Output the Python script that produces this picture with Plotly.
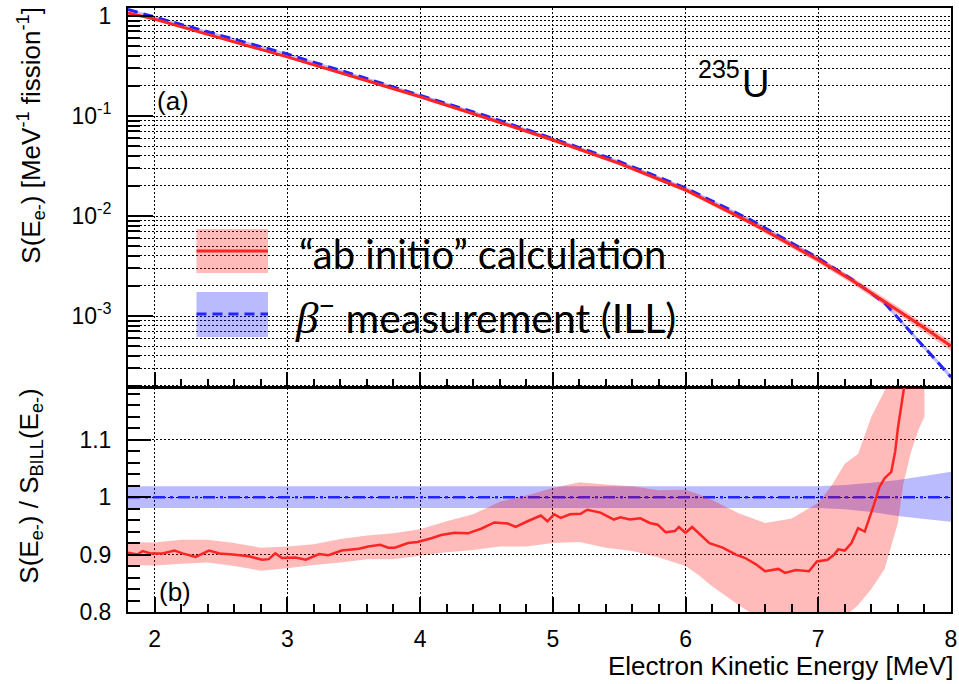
import plotly.graph_objects as go

# ---------------- data ----------------
# electron spectrum per fission, 235U
energy_spec = [1.8, 2.0, 2.5, 3.0, 3.5, 4.0, 4.5, 5.0, 5.5, 6.0, 6.5, 7.0, 7.25, 7.5, 7.75, 8.0]
s_ab_initio = [1.07, 0.93, 0.60, 0.39, 0.247, 0.156, 0.0955, 0.0575, 0.0336, 0.0182,
               0.00845, 0.00363, 0.00229, 0.00139, 0.000841, 0.00050]
s_ill = [1.16, 0.977, 0.638, 0.417, 0.260, 0.162, 0.100, 0.0596, 0.0351, 0.0191,
         0.00902, 0.0038, 0.00234, 0.00135, 0.000575, 0.000245]
# relative uncertainties of the two spectra
rel_err_ab_initio = [0.03, 0.03, 0.03, 0.03, 0.03, 0.03, 0.035, 0.04, 0.045, 0.05,
                     0.06, 0.07, 0.08, 0.09, 0.10, 0.12]
rel_err_ill = [0.025, 0.025, 0.025, 0.025, 0.025, 0.025, 0.025, 0.025, 0.025, 0.025,
               0.03, 0.03, 0.035, 0.04, 0.05, 0.06]

# ratio ab initio / ILL
energy_ratio = [1.80, 1.87, 1.91, 1.97, 2.06, 2.15, 2.21, 2.31, 2.41, 2.49, 2.59, 2.71,
                2.81, 2.86, 2.91, 2.96, 3.06, 3.14, 3.24, 3.31, 3.41, 3.54, 3.61, 3.70,
                3.76, 3.81, 3.91, 3.98, 4.08, 4.16, 4.26, 4.36, 4.46, 4.56, 4.66, 4.72,
                4.81, 4.91, 4.96, 5.01, 5.06, 5.13, 5.21, 5.26, 5.36, 5.46, 5.51, 5.58,
                5.66, 5.73, 5.79, 5.85, 5.92, 5.95, 6.00, 6.05, 6.18, 6.28, 6.38, 6.45,
                6.53, 6.60, 6.70, 6.75, 6.83, 6.93, 6.99, 7.07, 7.12, 7.15, 7.20, 7.25,
                7.30, 7.35, 7.42, 7.46, 7.50, 7.55, 7.58, 7.60, 7.65, 7.70]
ratio_ab_initio = [0.903, 0.900, 0.906, 0.902, 0.902, 0.907, 0.902, 0.896, 0.907, 0.902,
                   0.900, 0.897, 0.891, 0.892, 0.902, 0.894, 0.895, 0.891, 0.901, 0.899,
                   0.907, 0.910, 0.914, 0.917, 0.912, 0.912, 0.920, 0.922, 0.928, 0.934,
                   0.938, 0.937, 0.945, 0.956, 0.954, 0.948, 0.958, 0.968, 0.958, 0.970,
                   0.964, 0.970, 0.971, 0.978, 0.973, 0.961, 0.965, 0.961, 0.963, 0.955,
                   0.952, 0.939, 0.941, 0.948, 0.938, 0.948, 0.920, 0.912, 0.900, 0.894,
                   0.883, 0.871, 0.875, 0.868, 0.873, 0.871, 0.888, 0.891, 0.900, 0.909,
                   0.907, 0.920, 0.946, 0.940, 0.987, 1.017, 1.033, 1.044, 1.080, 1.120,
                   1.196, 1.280]

energy_ratio_band = [1.8, 2.0, 2.2, 2.4, 2.6, 2.8, 3.0, 3.2, 3.4, 3.6, 3.8, 4.0, 4.2, 4.4,
                     4.6, 4.8, 5.0, 5.2, 5.4, 5.6, 5.8, 6.0, 6.1, 6.2, 6.4, 6.6, 6.8, 7.0,
                     7.1, 7.2, 7.3, 7.4, 7.5, 7.6, 7.64, 7.7, 7.76, 7.8]
ratio_band_high = [0.922, 0.921, 0.926, 0.926, 0.920, 0.912, 0.914, 0.918, 0.927, 0.933,
                   0.937, 0.944, 0.958, 0.970, 0.992, 1.003, 1.016, 1.026, 1.022, 1.019,
                   1.012, 1.013, 1.005, 0.995, 0.972, 0.955, 0.963, 0.990, 1.020, 1.058,
                   1.075, 1.140, 1.185, 1.300, 1.350, 1.400, 1.450, 1.500]
ratio_band_low = [0.882, 0.881, 0.884, 0.886, 0.880, 0.872, 0.876, 0.882, 0.886, 0.892,
                  0.892, 0.898, 0.904, 0.908, 0.914, 0.914, 0.920, 0.922, 0.912, 0.906,
                  0.895, 0.880, 0.864, 0.845, 0.812, 0.782, 0.770, 0.765, 0.775, 0.792,
                  0.812, 0.840, 0.875, 0.955, 1.022, 1.080, 1.120, 1.140]

energy_ill_band = [1.8, 7.0, 7.2, 7.4, 7.6, 7.8, 8.0]
ratio_ill = [1.0, 1.0, 1.0, 1.0, 1.0, 1.0, 1.0]
ill_band_high = [1.019, 1.019, 1.021, 1.025, 1.030, 1.037, 1.044]
ill_band_low = [0.981, 0.981, 0.979, 0.974, 0.967, 0.962, 0.957]

y_ticks_log = [1e-3, 1e-2, 1e-1, 1]
y_ticks_log_text = ["10<sup>-3</sup>", "10<sup>-2</sup>", "10<sup>-1</sup>", "1"]
y_ticks_ratio = [0.8, 0.9, 1.0, 1.1]
y_ticks_ratio_text = ["0.8", "0.9", "1", "1.1"]
x_ticks = [2, 3, 4, 5, 6, 7, 8]

# ---------------- styling ----------------
RED = "#ff2424"
BLUE = "#2424ff"
PINK = "rgba(255,0,0,0.27)"
LAVENDER = "rgba(0,0,255,0.27)"
FONT = "Liberation Sans"
DOT = "1.5px,2.5px"
GRID_W = 1.3

# pixel geometry of the frames
L, R, T, B = 128, 957, 8, 612
W, H = R - L, B - T


def px(x):
    return (x - L) / W


def py(y):
    return (B - y) / H


def band(xs, lo, hi):
    return list(xs) + list(xs)[::-1], list(hi) + list(lo)[::-1]


fig = go.Figure()

# ---- top panel: spectra ----
bx, by = band(energy_spec,
              [s / (1 + e) for s, e in zip(s_ill, rel_err_ill)],
              [s * (1 + e) for s, e in zip(s_ill, rel_err_ill)])
fig.add_trace(go.Scatter(x=bx, y=by, fill="toself", fillcolor=LAVENDER, mode="none",
                         xaxis="x", yaxis="y", hoverinfo="skip", showlegend=False))
fig.add_trace(go.Scatter(x=energy_spec, y=s_ill, mode="lines",
                         line=dict(color=BLUE, width=3, dash="10px,6px"),
                         xaxis="x", yaxis="y", showlegend=False))
bx, by = band(energy_spec,
              [s / (1 + e) for s, e in zip(s_ab_initio, rel_err_ab_initio)],
              [s * (1 + e) for s, e in zip(s_ab_initio, rel_err_ab_initio)])
fig.add_trace(go.Scatter(x=bx, y=by, fill="toself", fillcolor=PINK, mode="none",
                         xaxis="x", yaxis="y", hoverinfo="skip", showlegend=False))
fig.add_trace(go.Scatter(x=energy_spec, y=s_ab_initio, mode="lines",
                         line=dict(color=RED, width=3),
                         xaxis="x", yaxis="y", showlegend=False))

# ---- bottom panel: ratio ----
bx, by = band(energy_ill_band, ill_band_low, ill_band_high)
fig.add_trace(go.Scatter(x=bx, y=by, fill="toself", fillcolor=LAVENDER, mode="none",
                         xaxis="x2", yaxis="y2", hoverinfo="skip", showlegend=False))
fig.add_trace(go.Scatter(x=energy_ill_band, y=ratio_ill, mode="lines",
                         line=dict(color=BLUE, width=2.5, dash="12px,5px,3px,5px"),
                         xaxis="x2", yaxis="y2", showlegend=False))
bx, by = band(energy_ratio_band, ratio_band_low, ratio_band_high)
fig.add_trace(go.Scatter(x=bx, y=by, fill="toself", fillcolor=PINK, mode="none",
                         xaxis="x2", yaxis="y2", hoverinfo="skip", showlegend=False))
fig.add_trace(go.Scatter(x=energy_ratio, y=ratio_ab_initio, mode="lines",
                         line=dict(color=RED, width=2.5),
                         xaxis="x2", yaxis="y2", showlegend=False))

axis_common = dict(showline=True, linecolor="black", linewidth=2, mirror=True,
                   ticks="inside", tickcolor="black", tickwidth=1.5,
                   showgrid=True, gridcolor="black", gridwidth=GRID_W, griddash=DOT,
                   zeroline=False, ticklabeloverflow="allow",
                   tickfont=dict(family=FONT, size=23, color="black"))

fig.update_layout(
    width=959, height=684,
    margin=dict(l=L, r=959 - R, t=T, b=684 - B),
    paper_bgcolor="white", plot_bgcolor="white",
    showlegend=False,
    xaxis=dict(axis_common, domain=[0, 1], anchor="y", range=[1.8, 8.0],
               tickmode="array", tickvals=x_ticks, ticklen=15, showticklabels=False,
               minor=dict(dtick=0.2, tick0=2, ticks="inside", ticklen=8,
                          tickcolor="black", tickwidth=1.5, showgrid=False)),
    yaxis=dict(axis_common, domain=[py(387), 1], anchor="x", type="log",
               range=[-3.71, 0.08], tickmode="array", tickvals=y_ticks_log,
               ticktext=y_ticks_log_text, ticklen=25, ticklabelstandoff=10,
               minor=dict(dtick="D1", ticks="inside", ticklen=12, tickcolor="black",
                          tickwidth=1.5, showgrid=True, gridcolor="black",
                          gridwidth=GRID_W, griddash=DOT)),
    xaxis2=dict(axis_common, domain=[0, 1], anchor="y2", range=[1.8, 8.0],
                tickmode="array", tickvals=x_ticks, ticklen=15, ticklabelstandoff=5,
                minor=dict(dtick=0.2, tick0=2, ticks="inside", ticklen=8,
                           tickcolor="black", tickwidth=1.5, showgrid=False)),
    yaxis2=dict(axis_common, domain=[0, py(388)], anchor="x2", range=[0.8, 1.19],
                tickmode="array", tickvals=y_ticks_ratio, ticktext=y_ticks_ratio_text,
                ticklen=23, ticklabelstandoff=10,
                minor=dict(dtick=0.02, tick0=0.8, ticks="inside", ticklen=12,
                           tickcolor="black", tickwidth=1.5, showgrid=False)),
)

shapes = []
# white legend box hiding the grid behind it
shapes.append(dict(type="rect", xref="paper", yref="paper", layer="below",
                   x0=px(182), x1=px(713), y0=py(345), y1=py(212),
                   fillcolor="white", line=dict(width=0)))
# white boxes behind the panel labels
for x0, x1 in [(132, 286), (292, 420), (426, 553), (693, 820)]:
    shapes.append(dict(type="rect", xref="paper", yref="paper", layer="below",
                       x0=px(x0), x1=px(x1), y0=py(90), y1=py(82),
                       fillcolor="white", line=dict(width=0)))
# legend swatches
shapes.append(dict(type="rect", xref="paper", yref="paper", layer="above",
                   x0=px(197), x1=px(269), y0=py(273), y1=py(229),
                   fillcolor=PINK, line=dict(width=0)))
shapes.append(dict(type="line", xref="paper", yref="paper", layer="above",
                   x0=px(197), x1=px(269), y0=py(251), y1=py(251),
                   line=dict(color=RED, width=3)))
shapes.append(dict(type="rect", xref="paper", yref="paper", layer="above",
                   x0=px(197), x1=px(269), y0=py(337), y1=py(292),
                   fillcolor=LAVENDER, line=dict(width=0)))
shapes.append(dict(type="line", xref="paper", yref="paper", layer="above",
                   x0=px(197), x1=px(269), y0=py(314), y1=py(314),
                   line=dict(color=BLUE, width=3, dash="10px,6px")))

ann = []


def text(x, y, s, size, xanchor="center", angle=0, family=FONT):
    ann.append(dict(xref="paper", yref="paper", x=px(x), y=py(y), text=s,
                    showarrow=False, xanchor=xanchor, yanchor="middle",
                    textangle=angle, font=dict(family=family, size=size, color="black")))


text(30, 135, "S(E<sub>e-</sub>) [MeV<sup>-1</sup> fission<sup>-1</sup>]", 26, angle=-90)
text(30, 486, "S(E<sub>e-</sub>) / S<sub>BILL</sub>(E<sub>e-</sub>)", 26, angle=-90)
text(961, 666, "Electron Kinetic Energy [MeV]", 26, xanchor="right")
text(155, 101, "(a)", 26, xanchor="left")
text(157, 592, "(b)", 26, xanchor="left")
text(723, 69, "235", 25)
text(760, 84, "U", 38)
text(298, 254, "\u201cab initio\u201d calculation", 40, xanchor="left", family="Lato")
text(294, 316, "<span style='font-family:Liberation Serif;font-size:45px'><i>\u03b2</i></span>"
     "<sup>\u2212</sup> measurement (ILL)", 41, xanchor="left", family="Lato")

fig.update_layout(shapes=shapes, annotations=ann)

fig.write_html("out.html", config={"displayModeBar": False})
